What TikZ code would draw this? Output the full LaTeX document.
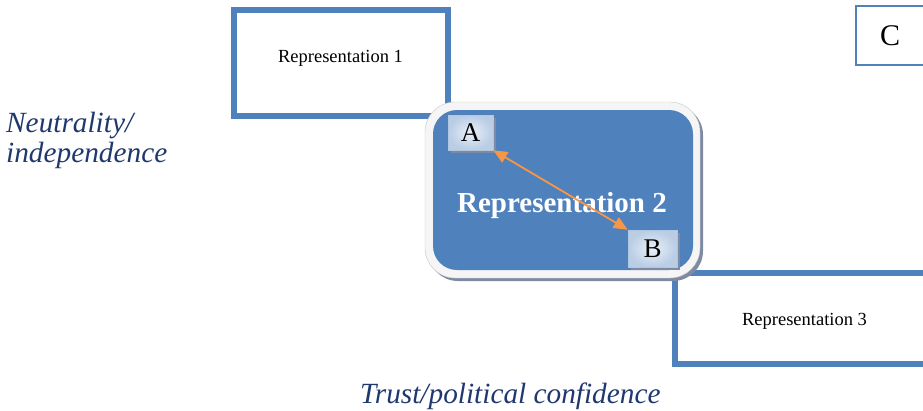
\documentclass[tikz,border=0pt]{standalone}
\usepackage{fontspec}
\setmainfont{Liberation Serif}
\usetikzlibrary{arrows.meta,shadows}
\definecolor{repblue}{RGB}{79,129,189}
\definecolor{navy}{RGB}{31,56,110}
\definecolor{arrorange}{RGB}{247,150,70}
\definecolor{shadowgray}{RGB}{125,138,162}

\begin{document}
\begin{tikzpicture}[x=1pt, y=-1pt,
		repbox/.style={draw=repblue, line width=6pt},
		letterbox/.style={draw=repblue!45, line width=0.6pt, inner color=white!88!repblue, outer color=repblue!40,
			minimum width=45pt, minimum height=35pt, inner sep=0pt, font=\fontsize{27}{30}\selectfont,
			drop shadow={shadow xshift=3pt, shadow yshift=-3pt, fill=shadowgray, opacity=1}},
		axislabel/.style={text=navy, inner sep=0pt, font=\fontsize{29.3}{30}\selectfont\itshape}]
		\useasboundingbox (0,0) rectangle (923,410);
		\clip (0,0) rectangle (923,410);
		% outer representations
		\draw[repbox] (234,10) rectangle (448,116);
		\node[anchor=base, inner sep=0pt, font=\fontsize{18.5}{20}\selectfont] (R1) at (340.5,62) {Representation 1};
		\draw[repbox] (675,273) rectangle (937,364);
		\node[anchor=base, inner sep=0pt, font=\fontsize{18.5}{20}\selectfont] (R3) at (804.5,325) {Representation 3};
		\draw[repblue, line width=2.5pt] (856,6) rectangle (930,65);
		\node[font=\fontsize{30}{32}\selectfont] (C) at (890,36) {C};
		% central representation
		\fill[shadowgray, rounded corners=30pt] (428,105) rectangle (703,281);
		\filldraw[fill=black!4, draw=black!22, rounded corners=30pt] (425,102) rectangle (700,278);
		\fill[repblue, rounded corners=24pt] (433,110) rectangle (693,270);
		\node[anchor=base, inner sep=0pt, text=white, font=\fontsize{29}{32}\selectfont\bfseries] (R2) at (562,212) {Representation 2};
		\node[letterbox] (A) at (470.5,132.5) {A};
		\node[letterbox, minimum width=49pt, minimum height=37pt] (B) at (652.5,248.5) {B};
		\draw[arrorange, line width=1.8pt, {Triangle[length=14pt,width=12pt]}-{Triangle[length=14pt,width=12pt]}] (A.south east) -- (B.north west);
		% axes
		\node[axislabel, anchor=north west, align=left] (N) at (6,112) {Neutrality/\\independence};
		\node[axislabel, anchor=base west] (T) at (360,403) {Trust/political confidence};
\end{tikzpicture}
\end{document}
